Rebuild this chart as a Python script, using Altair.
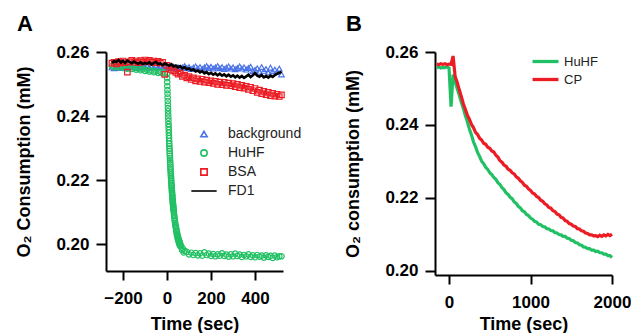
import altair as alt
import pandas as pd

FONT = "Liberation Sans"
BLUE = "#4b73e8"
GREEN = "#22c064"
RED = "#ec1c24"
BLACK = "#000000"

# ---------------- Panel A ----------------
A_t = list(range(-250, 530, 10))  # 78 sample times
A_background = [
    0.2552, 0.2549, 0.2554, 0.2550, 0.2556, 0.2551, 0.2555, 0.2549, 0.2553, 0.2557,
    0.2552, 0.2555, 0.2550, 0.2554, 0.2558, 0.2553, 0.2556, 0.2551, 0.2555, 0.2552,
    0.2557, 0.2553, 0.2556, 0.2551, 0.2555, 0.2552, 0.2556, 0.2550, 0.2554, 0.2549,
    0.2553, 0.2548, 0.2552, 0.2556, 0.2550, 0.2553, 0.2547, 0.2551, 0.2555, 0.2549,
    0.2553, 0.2547, 0.2552, 0.2556, 0.2550, 0.2554, 0.2548, 0.2552, 0.2556, 0.2549,
    0.2553, 0.2547, 0.2551, 0.2555, 0.2548, 0.2552, 0.2546, 0.2550, 0.2555, 0.2548,
    0.2552, 0.2545, 0.2550, 0.2554, 0.2540, 0.2544, 0.2549, 0.2538, 0.2553, 0.2541,
    0.2547, 0.2536, 0.2551, 0.2540, 0.2545, 0.2538, 0.2548, 0.2530,
]
A_bsa = [
    0.2565, 0.2568, 0.2563, 0.2570, 0.2566, 0.2572, 0.2567, 0.2537, 0.2569, 0.2574,
    0.2568, 0.2572, 0.2567, 0.2573, 0.2569, 0.2575, 0.2570, 0.2574, 0.2568, 0.2572,
    0.2567, 0.2571, 0.2565, 0.2568, 0.2530, 0.2558, 0.2552, 0.2546, 0.2541, 0.2536,
    0.2531, 0.2534, 0.2524, 0.2528, 0.2519, 0.2523, 0.2514, 0.2519, 0.2510, 0.2516,
    0.2508, 0.2515, 0.2506, 0.2512, 0.2504, 0.2510, 0.2502, 0.2508, 0.2499, 0.2506,
    0.2498, 0.2505, 0.2496, 0.2503, 0.2495, 0.2501, 0.2492, 0.2499, 0.2489, 0.2496,
    0.2487, 0.2493, 0.2483, 0.2490, 0.2479, 0.2486, 0.2474, 0.2481, 0.2470, 0.2477,
    0.2467, 0.2474, 0.2464, 0.2471, 0.2462, 0.2468, 0.2461, 0.2466,
]
A_fd1 = [
    0.2566, 0.2571, 0.2569, 0.2575, 0.2567, 0.2572, 0.2566, 0.2573, 0.2569, 0.2565,
    0.2570, 0.2566, 0.2563, 0.2568, 0.2562, 0.2566, 0.2563, 0.2568, 0.2561, 0.2566,
    0.2569, 0.2562, 0.2565, 0.2559, 0.2564, 0.2561, 0.2557, 0.2562, 0.2555, 0.2558,
    0.2552, 0.2556, 0.2549, 0.2553, 0.2546, 0.2549, 0.2543, 0.2546, 0.2539, 0.2542,
    0.2536, 0.2540, 0.2533, 0.2537, 0.2531, 0.2535, 0.2529, 0.2533, 0.2527, 0.2532,
    0.2526, 0.2530, 0.2524, 0.2529, 0.2523, 0.2527, 0.2521, 0.2526, 0.2520, 0.2525,
    0.2519, 0.2524, 0.2529, 0.2522, 0.2527, 0.2534, 0.2526, 0.2523, 0.2528, 0.2521,
    0.2525, 0.2520, 0.2526, 0.2522, 0.2528, 0.2532, 0.2535, 0.2539,
]
A_huhf_t = (list(range(-250, 0, 10)) + [i * 0.5 for i in range(0, 61)]
            + list(range(31, 61)) + [64, 68, 72, 76, 80] + list(range(90, 530, 10)))
A_huhf = [
    # before injection (-250 .. -10)
    0.2556, 0.2553, 0.2557, 0.2552, 0.2555, 0.2550, 0.2553, 0.2548, 0.2552, 0.2547,
    0.2550, 0.2545, 0.2548, 0.2543, 0.2546, 0.2541, 0.2544, 0.2539, 0.2542, 0.2537,
    0.2540, 0.2535, 0.2538, 0.2533, 0.2536,
    # drop (0 .. 30 s)
    0.2531, 0.2518, 0.2506, 0.2493, 0.2481, 0.2470, 0.2458, 0.2447, 0.2436, 0.2425,
    0.2415, 0.2405, 0.2395, 0.2385, 0.2375, 0.2366, 0.2357, 0.2348, 0.2339, 0.2331,
    0.2322, 0.2314, 0.2306, 0.2298, 0.2291, 0.2283, 0.2276, 0.2269, 0.2262, 0.2255,
    0.2249, 0.2242, 0.2236, 0.2230, 0.2224, 0.2218, 0.2212, 0.2207, 0.2201, 0.2196,
    0.2190, 0.2185, 0.2180, 0.2175, 0.2170, 0.2165, 0.2161, 0.2156, 0.2152, 0.2148,
    0.2143, 0.2139, 0.2135, 0.2131, 0.2127, 0.2124, 0.2120, 0.2116, 0.2113, 0.2109,
    0.2106,
    # 31 .. 60 s
    0.2100, 0.2093, 0.2088, 0.2082, 0.2076, 0.2071, 0.2066, 0.2062, 0.2057, 0.2053,
    0.2052, 0.2041, 0.2045, 0.2033, 0.2038, 0.2027, 0.2031, 0.2020, 0.2026, 0.2015,
    0.2020, 0.2010, 0.2015, 0.2005, 0.2011, 0.2001, 0.2007, 0.1997, 0.2003, 0.1994,
    # 64 .. 80 s
    0.1995, 0.1982, 0.1986, 0.1974, 0.1979,
    # plateau 90 .. 520 s
    0.1976, 0.1968, 0.1973, 0.1966, 0.1972, 0.1965, 0.1971, 0.1964, 0.1974, 0.1966,
    0.1970, 0.1963, 0.1969, 0.1962, 0.1968, 0.1964, 0.1971, 0.1963, 0.1967, 0.1961,
    0.1968, 0.1962, 0.1970, 0.1963, 0.1967, 0.1960, 0.1966, 0.1962, 0.1968, 0.1960,
    0.1965, 0.1959, 0.1966, 0.1961, 0.1964, 0.1958, 0.1965, 0.1960, 0.1963, 0.1957,
    0.1964, 0.1959, 0.1962, 0.1962,
]

A_series = ["background", "HuHF", "BSA", "FD1"]
A_colors = [BLUE, GREEN, RED, BLACK]
A_shapes = ["triangle-up", "circle", "square", "M-4,0H4"]

A_xticks = [-200, 0, 200, 400]
A_yticks = [0.20, 0.22, 0.24, 0.26]

# ---------------- Panel B ----------------
B_t = list(range(-150, 2001, 25))  # 87 sample times
B_huhf = [
    0.2557, 0.2559, 0.2556, 0.2558, 0.2557, 0.2559, 0.2556, 0.2450, 0.2538, 0.2519,
    0.2500, 0.2483, 0.2463, 0.2446, 0.2426, 0.2409, 0.2389, 0.2373, 0.2354, 0.2341,
    0.2325, 0.2314, 0.2301, 0.2294, 0.2284, 0.2278, 0.2269, 0.2264, 0.2256, 0.2251,
    0.2242, 0.2237, 0.2228, 0.2223, 0.2214, 0.2210, 0.2202, 0.2198, 0.2189, 0.2185,
    0.2177, 0.2173, 0.2165, 0.2162, 0.2155, 0.2152, 0.2145, 0.2142, 0.2136, 0.2134,
    0.2128, 0.2127, 0.2122, 0.2121, 0.2116, 0.2115, 0.2111, 0.2110, 0.2105, 0.2104,
    0.2100, 0.2099, 0.2095, 0.2095, 0.2090, 0.2089, 0.2084, 0.2083, 0.2078, 0.2077,
    0.2072, 0.2071, 0.2066, 0.2065, 0.2061, 0.2061, 0.2057, 0.2057, 0.2053, 0.2054,
    0.2050, 0.2050, 0.2046, 0.2046, 0.2042, 0.2042, 0.2037,
]
B_cp = [
    0.2567, 0.2565, 0.2568, 0.2566, 0.2568, 0.2565, 0.2567, 0.2566, 0.2589, 0.2533,
    0.2517, 0.2497, 0.2479, 0.2459, 0.2443, 0.2427, 0.2416, 0.2402, 0.2393, 0.2380,
    0.2374, 0.2364, 0.2359, 0.2350, 0.2347, 0.2339, 0.2336, 0.2329, 0.2326, 0.2317,
    0.2312, 0.2302, 0.2298, 0.2290, 0.2287, 0.2279, 0.2276, 0.2269, 0.2266, 0.2258,
    0.2254, 0.2247, 0.2243, 0.2235, 0.2232, 0.2225, 0.2221, 0.2214, 0.2211, 0.2204,
    0.2201, 0.2194, 0.2191, 0.2184, 0.2181, 0.2174, 0.2172, 0.2165, 0.2163, 0.2156,
    0.2154, 0.2147, 0.2145, 0.2138, 0.2136, 0.2130, 0.2128, 0.2123, 0.2122, 0.2116,
    0.2115, 0.2110, 0.2109, 0.2104, 0.2103, 0.2099, 0.2099, 0.2096, 0.2097, 0.2094,
    0.2098, 0.2095, 0.2099, 0.2096, 0.2100, 0.2097, 0.2101,
]
B_series = ["HuHF", "CP"]
B_colors = [GREEN, RED]
B_xticks = [0, 1000, 2000]
B_yticks = [0.20, 0.22, 0.24, 0.26]

# ---------------- data tables ----------------
pts = pd.concat([
    pd.DataFrame({"t": A_t, "v": A_background, "series": "background"}),
    pd.DataFrame({"t": A_huhf_t, "v": A_huhf, "series": "HuHF"}),
    pd.DataFrame({"t": A_t, "v": A_bsa, "series": "BSA"}),
], ignore_index=True)
pts["i"] = range(len(pts))
fd1 = pd.DataFrame({"t": A_t, "v": A_fd1, "series": "FD1"})

dfB_h = pd.DataFrame({"t": B_t, "v": B_huhf, "series": "HuHF"})
dfB_c = pd.DataFrame({"t": B_t, "v": B_cp, "series": "CP"})

# ---------------- encodings ----------------
def xaxis(values, title_pad):
    return alt.Axis(values=values, format="d", labelPadding=10, titlePadding=title_pad,
                    tickSize=9, labelFlush=False)

def yaxis(values):
    return alt.Axis(values=values, format=".2f", labelPadding=7, titlePadding=22, tickSize=10)

xA = alt.X("t:Q", title="Time (sec)",
           scale=alt.Scale(domain=[-277, 527], nice=False, zero=False), axis=xaxis(A_xticks, 9))
yA = alt.Y("v:Q", title="O₂ Consumption (mM)",
           scale=alt.Scale(domain=[0.1916, 0.26], nice=False, zero=False), axis=yaxis(A_yticks))

legA = alt.Legend(
    title=None, orient="none", legendX=91, legendY=75, padding=0,
    labelFont=FONT, labelFontSize=14, labelColor="#222222",
    symbolSize=40, symbolStrokeWidth=1.6, symbolFillColor="transparent",
    labelOffset=17, rowPadding=5,
)
colA = alt.Color("series:N", scale=alt.Scale(domain=A_series, range=A_colors), legend=legA)
shpA = alt.Shape("series:N", scale=alt.Scale(domain=A_series, range=A_shapes), legend=legA)

pointsA = alt.Chart(pts).mark_point(filled=False, size=30, strokeWidth=1.2, opacity=1).encode(
    x=xA, y=yA, color=colA, shape=shpA, order=alt.Order("i:Q"))
lineA = alt.Chart(fd1).mark_line(strokeWidth=2.6).encode(
    x=xA, y=yA,
    color=alt.Color("series:N", scale=alt.Scale(domain=A_series, range=A_colors), legend=None))

panelA = alt.layer(pointsA, lineA).properties(
    width=177, height=219,
    title=alt.TitleParams("A", anchor="start", frame="group", dx=-89, offset=7))

xB = alt.X("t:Q", title="Time (sec)",
           scale=alt.Scale(domain=[-172, 2000], nice=False, zero=False), axis=xaxis(B_xticks, 5))
yB = alt.Y("v:Q", title="O₂ consumption (mM)",
           scale=alt.Scale(domain=[0.1989, 0.26], nice=False, zero=False), axis=yaxis(B_yticks))
legB = alt.Legend(
    title=None, orient="none", legendX=104, legendY=3, padding=0,
    labelFont=FONT, labelFontSize=13, labelColor="#222222",
    symbolType="M-4,0H4", symbolSize=42, symbolStrokeWidth=3.3, labelOffset=12, rowPadding=3,
)
colB = alt.Color("series:N", scale=alt.Scale(domain=B_series, range=B_colors), legend=legB)

lineB1 = alt.Chart(dfB_h).mark_line(strokeWidth=3.2).encode(x=xB, y=yB, color=colB)
lineB2 = alt.Chart(dfB_c).mark_line(strokeWidth=3.2).encode(x=xB, y=yB, color=colB)
panelB = alt.layer(lineB1, lineB2).properties(
    width=177, height=223,
    title=alt.TitleParams("B", anchor="start", frame="group", dx=-89, offset=7))

chart = alt.hconcat(panelA, panelB, spacing=42).resolve_scale(
    color="independent", shape="independent"
).resolve_legend(color="independent", shape="independent").properties(
    padding={"left": 7, "top": 5, "right": 0, "bottom": 0}
).configure_view(stroke=None).configure_axis(
    grid=False, domainColor=BLACK, domainWidth=2, tickColor=BLACK, tickWidth=2,
    labelFont=FONT, labelFontSize=17, labelFontWeight="bold", labelColor=BLACK,
    titleFont=FONT, titleFontSize=18, titleFontWeight="bold", titleColor=BLACK,
).configure_title(font=FONT, fontSize=22, fontWeight="bold", color=BLACK)

chart.save("out.html", embed_options={"renderer": "svg", "actions": False})
